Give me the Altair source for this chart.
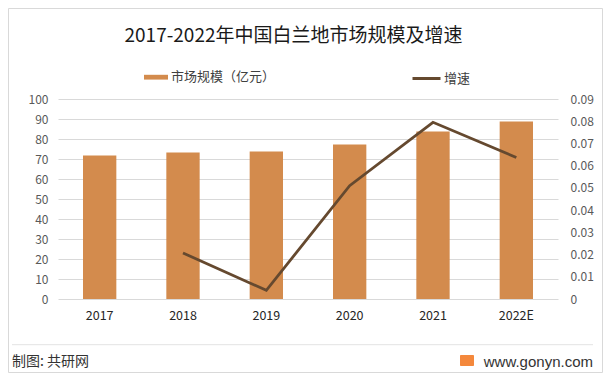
import altair as alt
import pandas as pd

years = ["2017", "2018", "2019", "2020", "2021", "2022E"]
market_size = [71.7, 73.2, 73.7, 77.2, 83.7, 88.7]
growth = [None, 0.0207, 0.0039, 0.051, 0.0795, 0.0637]

bar_label = "市场规模（亿元）"
line_label = "增速"
title_text = "2017-2022年中国白兰地市场规模及增速"
source_text = "制图: 共研网"
site_text = "www.gonyn.com"

BAR_COLOR = "#D38B4D"
LINE_COLOR = "#65492F"
GRID = "#D9D9D9"
FONT = "Noto Sans CJK SC"

df = pd.DataFrame({"year": years, "size": market_size, "growth": growth})
df["s1"] = bar_label
df["s2"] = line_label

base = alt.Chart(df)

x_enc = alt.X(
    "year:N",
    sort=years,
    scale=alt.Scale(paddingInner=0.6, paddingOuter=0.3),
    axis=alt.Axis(labelAngle=0, domain=False, ticks=False, labelPadding=10,
                  labelFontSize=12.5, labelColor="#262626", title=None, labelFont=FONT),
)

bars = base.mark_bar().encode(
    x=x_enc,
    y=alt.Y("size:Q", scale=alt.Scale(domain=[0, 100], nice=False),
            axis=alt.Axis(values=list(range(0, 101, 10)), grid=True, gridColor=GRID,
                          domain=False, ticks=False, labelPadding=10, labelColor="#595959",
                          labelFontSize=12, title=None, labelFont=FONT)),
    color=alt.Color("s1:N", scale=alt.Scale(range=[BAR_COLOR]),
                    legend=alt.Legend(orient="none", legendX=86, legendY=-33.8, title=None,
                                      symbolType="M-1,-0.2H1V0.2H-1Z", symbolSize=576,
                                      symbolStrokeWidth=0, symbolOpacity=1, labelOffset=3,
                                      labelFontSize=13, labelColor="#404040", labelFont=FONT,
                                      padding=0)),
)

line = base.transform_filter("isValid(datum.growth)").mark_line(strokeWidth=2.8).encode(
    x=alt.X("year:N", sort=years),
    y=alt.Y("growth:Q", scale=alt.Scale(domain=[0, 0.09], nice=False),
            axis=alt.Axis(orient="right", values=[round(i * 0.01, 2) for i in range(10)],
                          labelExpr="datum.value == 0 ? '0' : format(datum.value, '.2f')",
                          grid=False, domain=False, ticks=False, labelPadding=12,
                          labelColor="#595959", labelFontSize=12, title=None, labelFont=FONT)),
    stroke=alt.Stroke("s2:N", scale=alt.Scale(range=[LINE_COLOR]),
                      legend=alt.Legend(orient="none", legendX=353, legendY=-36, title=None,
                                        symbolType="stroke", symbolSize=784,
                                        symbolStrokeWidth=3, labelOffset=2,
                                        labelFontSize=13, labelColor="#404040", labelFont=FONT,
                                        padding=0)),
)

one = alt.Data(values=[{}])

title = alt.Chart(one).mark_text(fontSize=19, font=FONT, color="#1A1A1A",
                                 align="center", baseline="alphabetic").encode(
    x=alt.value(235.5), y=alt.value(-57), text=alt.value(title_text))

footer_rule = alt.Chart(one).mark_rule(color="#E3E3E3", strokeWidth=1).encode(
    x=alt.value(-46), x2=alt.value(535), y=alt.value(245.7))

src = alt.Chart(one).mark_text(fontSize=14, font=FONT, color="#333333",
                               align="left", baseline="middle").encode(
    x=alt.value(-46), y=alt.value(262.7), text=alt.value(source_text))

site = alt.Chart(one).mark_text(fontSize=15, font="Liberation Sans", color="#333333",
                                align="right", baseline="middle").encode(
    x=alt.value(535), y=alt.value(262.7), text=alt.value(site_text))

icon = alt.Chart(one).mark_rect(color="#F4883C", cornerRadius=1).encode(
    x=alt.value(402), x2=alt.value(416), y=alt.value(256), y2=alt.value(267))

border = alt.Chart(one).mark_rect(filled=False, stroke="#D9D9D9", strokeWidth=1).encode(
    x=alt.value(-49.5), x2=alt.value(544.5), y=alt.value(-90.5), y2=alt.value(273.5))

chart = alt.layer(bars, line, title, footer_rule, src, site, icon, border).resolve_scale(
    y="independent", color="independent"
).properties(
    width=500, height=200,
    autosize=alt.AutoSizeParams(type="none"),
    padding={"left": 50, "top": 91, "right": 45, "bottom": 74},
    background="white",
).configure_view(stroke=None)

chart.save("out.html", embed_options={"renderer": "svg", "actions": False})
